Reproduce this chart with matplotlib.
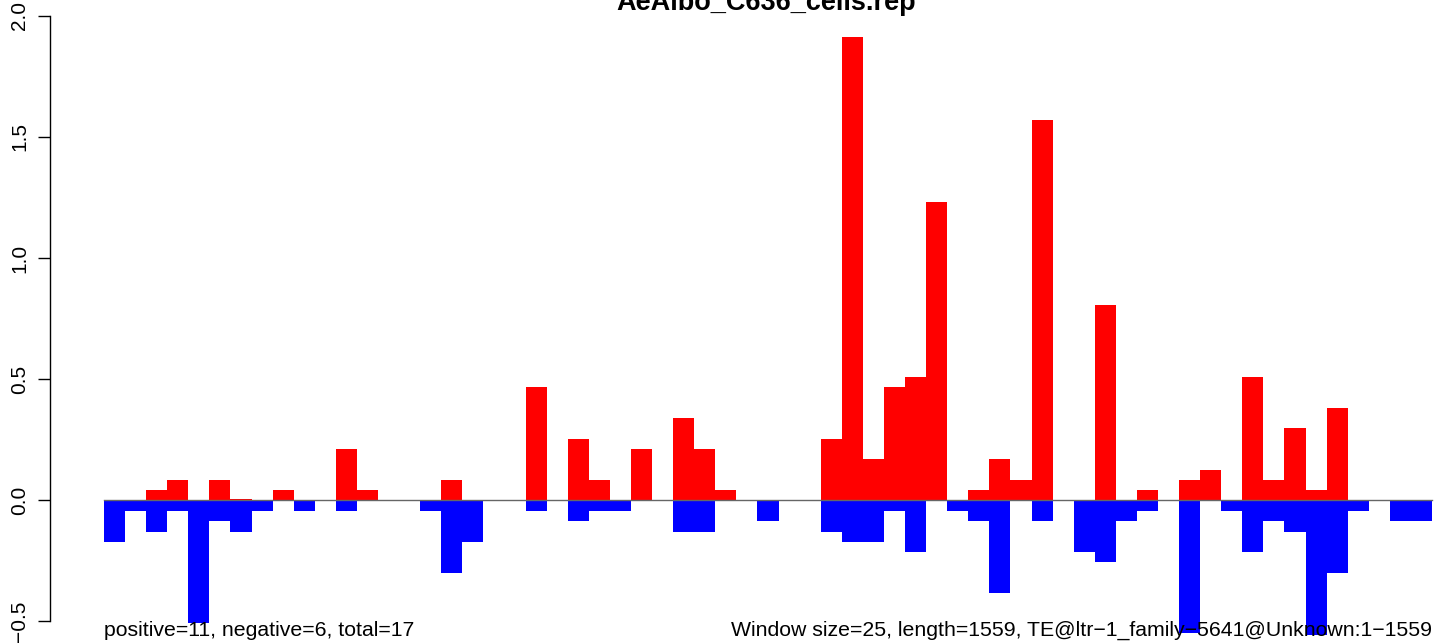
import numpy as np
import matplotlib
matplotlib.use("Agg")
import matplotlib.pyplot as plt

# window values (63 windows of 25 bp)
n_windows = 63
pos_idx = [2, 3, 5, 6, 8, 11, 12, 16, 20, 22, 23, 25, 27, 28, 29, 34, 35, 36, 37, 38,
           39, 41, 42, 43, 44, 47, 49, 51, 52, 54, 55, 56, 57, 58]
pos_val = [0.041, 0.083, 0.083, 0.004, 0.041, 0.21, 0.041, 0.083, 0.468, 0.252, 0.083,
           0.21, 0.339, 0.21, 0.041, 0.252, 1.913, 0.169, 0.467, 0.51, 1.231, 0.041,
           0.169, 0.083, 1.57, 0.806, 0.041, 0.083, 0.124, 0.51, 0.083, 0.298, 0.041, 0.38]
neg_idx = [0, 1, 2, 3, 4, 5, 6, 7, 9, 11, 15, 16, 17, 20, 22, 23, 24, 27, 28, 31, 34,
           35, 36, 37, 38, 40, 41, 42, 44, 46, 47, 48, 49, 51, 53, 54, 55, 56, 57, 58,
           59, 61, 62]
neg_val = [-0.172, -0.045, -0.131, -0.045, -0.51, -0.087, -0.131, -0.045, -0.045, -0.045,
           -0.045, -0.30, -0.172, -0.045, -0.087, -0.045, -0.045, -0.132, -0.132, -0.087,
           -0.132, -0.172, -0.172, -0.045, -0.214, -0.045, -0.087, -0.383, -0.087, -0.214,
           -0.255, -0.087, -0.045, -0.55, -0.045, -0.215, -0.085, -0.131, -0.558, -0.30,
           -0.045, -0.085, -0.085]
yticks = [-0.5, 0.0, 0.5, 1.0, 1.5, 2.0]

title = "AeAlbo_C636_cells.rep"
left_note = "positive=11, negative=6, total=17"
right_note = "Window size=25, length=1559, TE@ltr\u22121_family\u22125641@Unknown:1\u22121559"

W, H = 1444, 643
plt.rcParams['font.family'] = ['Liberation Sans', 'DejaVu Sans']

fig = plt.figure(figsize=(W / 100, H / 100), dpi=100)
ax_left = 50
ax = fig.add_axes([ax_left / W, 0, 1 - ax_left / W, 1])

bar_w = 21.08  # px per window
x0 = -(104 - ax_left) / bar_w
ax.set_xlim(x0, x0 + (W - ax_left) / bar_w)
ax.set_ylim((500 - H) / 242, 500 / 242)

ax.bar(np.array(pos_idx), pos_val, width=1.0, align='edge', color='#ff0000', linewidth=0)
ax.plot([0, n_windows], [0, 0], color='#666666', lw=1.0)
ax.bar(np.array(neg_idx), neg_val, width=1.0, align='edge', color='#0000ff', linewidth=0)

for s in ['top', 'right', 'bottom']:
    ax.spines[s].set_visible(False)
ax.spines['left'].set_bounds(-0.5, 2.0)
ax.spines['left'].set_linewidth(1.0)
ax.set_xticks([])
ax.set_yticks(yticks)
ax.set_yticklabels([f"{v:.1f}".replace('-', '\u2212') for v in yticks],
                   rotation=90, va='center', fontsize=15)
ax.tick_params(axis='y', length=9, width=1.0, pad=6)

fig.text(766 / W, 1 - 10 / H, title, ha='center', va='baseline',
         fontsize=19.5, fontweight='bold')
fig.text(104 / W, (H - 636) / H, left_note, ha='left', va='baseline', fontsize=15.3)
fig.text(1432 / W, (H - 636) / H, right_note, ha='right', va='baseline', fontsize=15.3)

fig.savefig("out.png", dpi=100)
